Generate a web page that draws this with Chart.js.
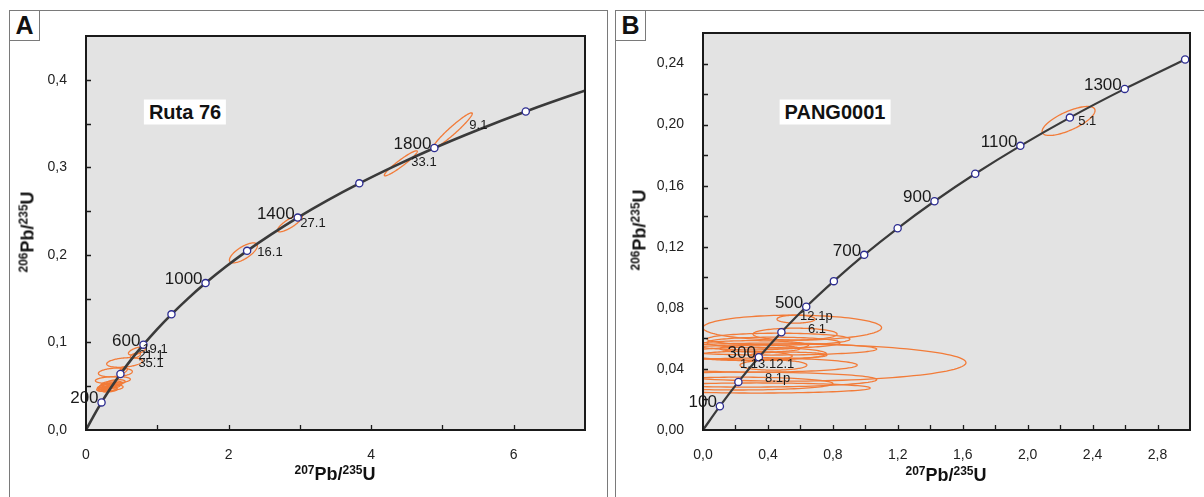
<!DOCTYPE html>
<html>
<head>
<meta charset="utf-8">
<script src="https://cdn.jsdelivr.net/npm/chart.js@4.4.1/dist/chart.umd.min.js"></script>
<style>
  body { margin: 0; background: #fff; width: 1204px; height: 497px; overflow: hidden; position: relative; font-family: "Liberation Sans", Arial, sans-serif; }
  .panel { position: absolute; box-sizing: border-box; border: 1px solid #7a7a7a; }
  .letter { position: absolute; box-sizing: border-box; border: 1px solid #7a7a7a; background: #fff; font-weight: bold; font-size: 25px; text-align: center; line-height: 29px; color: #111; }
  canvas { position: absolute; }
  .title { position: absolute; background: #fff; font-weight: bold; font-size: 20px; padding: 1px 5px; transform: translate(-50%, -50%); white-space: nowrap; color: #111; }
  .axis { position: absolute; font-weight: bold; font-size: 18px; white-space: nowrap; transform: translate(-50%, -50%); color: #111; }
  .axis.rot { transform: translate(-50%, -50%) rotate(-90deg); }
  .axis sup { font-size: 12px; vertical-align: 6px; line-height: 0; }
</style>
</head>
<body>
<div class="panel" style="left:9px;top:10px;width:599px;height:500px"></div>
<div class="panel" style="left:615px;top:10px;width:600px;height:500px"></div>

<canvas id="chartA" width="596" height="486" style="left:10px;top:11px"></canvas>
<canvas id="chartB" width="588" height="486" style="left:616px;top:11px"></canvas>

<div class="letter" style="left:9px;top:10px;width:31px;height:31px">A</div>
<div class="letter" style="left:615px;top:10px;width:31px;height:31px">B</div>

<div class="title" style="left:185px;top:112px">Ruta 76</div>
<div class="title" style="left:835px;top:112px">PANG0001</div>

<div class="axis" style="left:335px;top:474px"><sup>207</sup>Pb/<sup>235</sup>U</div>
<div class="axis" style="left:946px;top:475px"><sup>207</sup>Pb/<sup>235</sup>U</div>
<div class="axis rot" style="left:28px;top:232px"><sup>206</sup>Pb/<sup>235</sup>U</div>
<div class="axis rot" style="left:640px;top:230px"><sup>206</sup>Pb/<sup>235</sup>U</div>

<script>
// Concordia curve (age in Ma)
const ages = [0, 100, 200, 300, 400, 500, 600, 700, 800, 900, 1000, 1100, 1200, 1300, 1400, 1500, 1600, 1700, 1800, 1900, 2000, 2100, 2200]
const ratio207 = [0, 0.104, 0.218, 0.344, 0.483, 0.636, 0.806, 0.993, 1.199, 1.426, 1.677, 1.955, 2.260, 2.598, 2.970, 3.381, 3.834, 4.335, 4.887, 5.496, 6.169, 6.911, 7.729]
const ratio206 = [0, 0.0156, 0.0315, 0.0476, 0.0640, 0.0807, 0.0975, 0.1147, 0.1321, 0.1498, 0.1678, 0.1861, 0.2046, 0.2234, 0.2426, 0.2620, 0.2817, 0.3017, 0.3221, 0.3427, 0.3638, 0.3851, 0.4068]

const markerAgesA = [200, 400, 600, 800, 1000, 1200, 1400, 1600, 1800, 2000]
const markerAgesB = [100, 200, 300, 400, 500, 600, 700, 800, 900, 1000, 1100, 1200, 1300, 1400]
const ageLabelsA = [200, 600, 1000, 1400, 1800]
const ageLabelsB = [100, 300, 500, 700, 900, 1100, 1300]

// error ellipses: [207/235, 206/238, sigma x, sigma y, rho]
const ellipsesA = [
  [5.146, 0.3423, 0.273, 0.0200, 0.96],
  [4.416, 0.3046, 0.231, 0.0143, 0.95],
  [2.860, 0.2360, 0.175, 0.0097, 0.82],
  [2.208, 0.2023, 0.196, 0.0114, 0.72],
  [0.714, 0.0903, 0.119, 0.0046, 0.6],
  [0.693, 0.0851, 0.070, 0.0030, 0.5],
  [0.540, 0.0771, 0.250, 0.0055, 0.3],
  [0.412, 0.0657, 0.238, 0.0051, 0.2],
  [0.377, 0.0571, 0.245, 0.0040, 0.2],
  [0.420, 0.0545, 0.130, 0.0030, 0.3],
  [0.360, 0.0525, 0.150, 0.0035, 0.3],
  [0.310, 0.0505, 0.120, 0.0030, 0.3],
  [0.340, 0.0485, 0.180, 0.0035, 0.2],
  [0.290, 0.0470, 0.140, 0.0030, 0.3],
  [0.380, 0.0500, 0.100, 0.0025, 0.4],
  [0.270, 0.0490, 0.100, 0.0028, 0.3],
  [0.330, 0.0460, 0.110, 0.0025, 0.3],
  [0.300, 0.0480, 0.080, 0.0020, 0.4],
  [0.350, 0.0495, 0.070, 0.0020, 0.3],
  [0.260, 0.0465, 0.090, 0.0022, 0.3],
  [0.320, 0.0515, 0.090, 0.0022, 0.3],
  [0.280, 0.0455, 0.060, 0.0018, 0.3],
  [0.400, 0.0520, 0.080, 0.0022, 0.3],
  [0.530, 0.0680, 0.050, 0.0030, 0.5],
  [0.520, 0.0700, 0.040, 0.0022, 0.5],
]
const ellipsesB = [
  [2.252, 0.2024, 0.163, 0.0095, 0.72],
  [0.550, 0.0670, 0.550, 0.0082, 0],
  [0.573, 0.0726, 0.117, 0.0026, 0],
  [0.465, 0.0595, 0.440, 0.0039, 0],
  [0.567, 0.0628, 0.259, 0.0039, 0],
  [0.434, 0.0572, 0.410, 0.0036, 0],
  [0.420, 0.0530, 0.650, 0.0039, 0],
  [0.320, 0.0500, 0.440, 0.0042, 0],
  [0.520, 0.0441, 1.100, 0.0121, 0],
  [0.434, 0.0425, 0.206, 0.0033, 0],
  [0.330, 0.0425, 0.620, 0.0046, 0],
  [0.270, 0.0330, 0.800, 0.0049, 0],
  [0.220, 0.0304, 0.580, 0.0042, 0],
  [0.330, 0.0275, 0.700, 0.0033, 0],
  [0.351, 0.0533, 0.246, 0.0023, 0],
  [0.527, 0.0490, 0.236, 0.0020, 0],
  [0.300, 0.0555, 0.350, 0.0030, 0],
  [0.250, 0.0485, 0.300, 0.0030, 0],
]

// spot labels: [name, 207/235, 206/238]
const spotLabelsA = [
  ["9.1", 5.378, 0.344],
  ["33.1", 4.564, 0.3017],
  ["27.1", 3.007, 0.232],
  ["16.1", 2.404, 0.1989],
  ["19.1", 0.791, 0.088],
  ["21.1", 0.735, 0.081],
  ["35.1", 0.735, 0.072],
]
const spotLabelsB = [
  ["5.1", 2.311, 0.1995],
  ["12.1p", 0.598, 0.0719],
  ["6.1", 0.647, 0.0634],
  ["1.13.12.1", 0.228, 0.0405],
  ["8.1p", 0.382, 0.0314],
]

const FONT = "'Liberation Sans', Arial, sans-serif"

const isMajor = (v, step) => Math.abs(v / step - Math.round(v / step)) < 1e-6

function decor(ellipses, ageLabels, spotLabels) {
  return {
    id: "decor",
    beforeDraw(chart) {
      const { ctx, chartArea: a } = chart
      ctx.save()
      ctx.fillStyle = "#e3e3e3"
      ctx.fillRect(a.left, a.top, a.right - a.left, a.bottom - a.top)
      ctx.restore()
    },
    beforeDatasetsDraw(chart) {
      const { ctx, chartArea: a, scales: { x, y } } = chart
      ctx.save()
      ctx.beginPath()
      ctx.rect(a.left, a.top, a.right - a.left, a.bottom - a.top)
      ctx.clip()
      ctx.strokeStyle = "#f27b38"
      ctx.lineWidth = 1.3
      ellipses.forEach(([cx, cy, sx, sy, rho]) => {
        ctx.beginPath()
        for (let k = 0; k <= 120; k++) {
          const t = (k / 120) * Math.PI * 2
          const px = x.getPixelForValue(cx + sx * Math.cos(t))
          const py = y.getPixelForValue(cy + sy * (rho * Math.cos(t) + Math.sqrt(1 - rho * rho) * Math.sin(t)))
          if (k) ctx.lineTo(px, py)
          else ctx.moveTo(px, py)
        }
        ctx.closePath()
        ctx.stroke()
      })
      ctx.restore()
    },
    afterDatasetsDraw(chart) {
      const { ctx, chartArea: a, scales: { x, y } } = chart
      ctx.save()
      // frame
      ctx.strokeStyle = "#1a1a1a"
      ctx.lineWidth = 2
      ctx.strokeRect(a.left, a.top, a.right - a.left, a.bottom - a.top)
      // inward tick marks
      ctx.lineWidth = 1.3
      ctx.beginPath()
      x.ticks.forEach((t) => {
        const px = Math.round(x.getPixelForValue(t.value)) + 0.5
        if (px <= a.left + 1 || px >= a.right - 1) return
        ctx.moveTo(px, a.bottom)
        ctx.lineTo(px, a.bottom - 5)
      })
      y.ticks.forEach((t) => {
        const py = Math.round(y.getPixelForValue(t.value)) + 0.5
        if (py <= a.top + 1 || py >= a.bottom - 1) return
        ctx.moveTo(a.left, py)
        ctx.lineTo(a.left + 5, py)
      })
      ctx.stroke()

      // age labels
      ctx.fillStyle = "#1a1a1a"
      ctx.font = "17px " + FONT
      ctx.textAlign = "right"
      ctx.textBaseline = "alphabetic"
      ageLabels.forEach((age) => {
        const i = ages.indexOf(age)
        ctx.fillText(String(age), x.getPixelForValue(ratio207[i]) - 3, y.getPixelForValue(ratio206[i]) + 1)
      })

      // spot labels
      ctx.font = "13px " + FONT
      ctx.textAlign = "left"
      spotLabels.forEach(([name, vx, vy]) => {
        ctx.fillText(name, x.getPixelForValue(vx), y.getPixelForValue(vy))
      })
      ctx.restore()
    },
  }
}

function makeChart(id, opts) {
  const n = ages.filter((a) => a <= opts.maxAge).length
  const pts = ages.slice(0, n).map((a, i) => ({ x: ratio207[i], y: ratio206[i] }))
  return new Chart(document.getElementById(id), {
    type: "scatter",
    data: {
      datasets: [
        {
          data: pts,
          showLine: true,
          cubicInterpolationMode: "monotone",
          borderColor: "#3a3a3a",
          borderWidth: opts.lineWidth,
          pointRadius: (c) => (opts.markers.includes(ages[c.dataIndex]) ? 3.6 : 0),
          pointHoverRadius: 0,
          pointBackgroundColor: "#ffffff",
          pointBorderColor: "#2b2b90",
          pointBorderWidth: 1.3,
        },
      ],
    },
    options: {
      responsive: false,
      animation: false,
      layout: { padding: opts.padding },
      plugins: { legend: { display: false }, tooltip: { enabled: false } },
      scales: {
        x: {
          type: "linear",
          min: 0,
          max: opts.xMax,
          grid: { display: false },
          border: { display: false },
          afterFit: (s) => { s.height = 67 },
          ticks: {
            stepSize: opts.xStep,
            autoSkip: false,
            maxRotation: 0,
            padding: 9,
            color: "#222",
            font: { family: FONT, size: 14 },
            callback: (v) => (isMajor(v, opts.xMajor) ? v.toFixed(opts.xDec).replace(".", ",") : ""),
          },
        },
        y: {
          type: "linear",
          min: 0,
          max: opts.yMax,
          grid: { display: false },
          border: { display: false },
          afterFit: (s) => { s.width = opts.yWidth },
          ticks: {
            stepSize: opts.yStep,
            autoSkip: false,
            padding: 11,
            color: "#222",
            font: { family: FONT, size: 14 },
            callback: (v) => (isMajor(v, opts.yMajor) ? v.toFixed(opts.yDec).replace(".", ",") : ""),
          },
        },
      },
    },
    plugins: [decor(opts.ellipses, opts.ageLabels, opts.spotLabels)],
  })
}

makeChart("chartA", {
  maxAge: 2200, markers: markerAgesA, ageLabels: ageLabelsA, ellipses: ellipsesA, spotLabels: spotLabelsA,
  xMax: 7, xStep: 1, xMajor: 2, xDec: 0,
  yMax: 0.45, yStep: 0.05, yMajor: 0.1, yDec: 1,
  yWidth: 76, padding: { top: 25, right: 21, left: 0, bottom: 0 }, lineWidth: 2.6,
})

makeChart("chartB", {
  maxAge: 1400, markers: markerAgesB, ageLabels: ageLabelsB, ellipses: ellipsesB, spotLabels: spotLabelsB,
  xMax: 3, xStep: 0.2, xMajor: 0.4, xDec: 1,
  yMax: 0.26, yStep: 0.02, yMajor: 0.04, yDec: 2,
  yWidth: 87, padding: { top: 22, right: 14, left: 0, bottom: 0 }, lineWidth: 2.2,
})
</script>
</body>
</html>
